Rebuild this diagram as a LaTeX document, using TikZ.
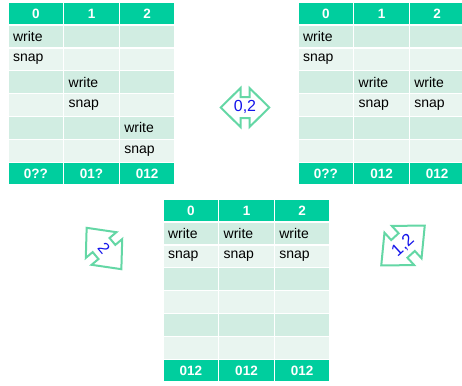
\documentclass[tikz,border=0pt]{standalone}
\usepackage{fontspec}
\setmainfont{Liberation Sans}
\definecolor{teal1}{RGB}{0,206,158}
\definecolor{rowA}{RGB}{209,237,226}
\definecolor{rowB}{RGB}{233,245,240}
\definecolor{arrowc}{RGB}{100,215,165}
\definecolor{lblc}{RGB}{20,20,235}
\def\cw{55.67}
\def\rh{22.9}
\tikzset{
  cellbase/.style={rectangle, draw=white, line width=1.5pt, minimum width=\cw pt, minimum height=\rh pt, inner ysep=0pt, outer sep=0pt},
  hcell/.style={cellbase, fill=teal1, text=white, font=\fontsize{13.5}{15}\selectfont\bfseries, align=center, inner xsep=0pt},
  bcell/.style={cellbase, fill=#1, text=black, font=\fontsize{14}{16}\selectfont, text width=\cw pt-10pt, align=left, inner xsep=5pt},
  arrowline/.style={draw=arrowc, line width=2pt, fill=white, line join=miter},
  alabel/.style={text=lblc, font=\fontsize{16}{18}\selectfont, inner sep=0pt}
}
\newcommand\mktable[5]{%
  \foreach \h [count=\i from 0] in {0,1,2}
    \node[hcell] (#1-0-\i) at ({#2+(\i+0.5)*\cw},{#3+0.5*\rh}) {\h};
  \foreach \r/\a/\b/\c in {#4} {
    \ifodd\r\def\rf{rowA}\else\def\rf{rowB}\fi
    \node[bcell=\rf] (#1-\r-0) at ({#2+0.5*\cw},{#3+(\r+0.5)*\rh}) {\a};
    \node[bcell=\rf] (#1-\r-1) at ({#2+1.5*\cw},{#3+(\r+0.5)*\rh}) {\b};
    \node[bcell=\rf] (#1-\r-2) at ({#2+2.5*\cw},{#3+(\r+0.5)*\rh}) {\c};
  }
  \foreach \f [count=\i from 0] in {#5}
    \node[hcell] (#1-7-\i) at ({#2+(\i+0.5)*\cw},{#3+7.5*\rh}) {\f};
}
% double arrow outline: #1 centre, #2 rotation, #3 half length, #4 head half width,
% #5 shaft half width, #6 shaft half length
\newcommand\dblarrow[6]{%
  \begin{scope}[shift={(#1)}, rotate=#2]
    \path[arrowline] (-#3,0) -- (-#6,-#4) -- (-#6,-#5) -- (#6,-#5) -- (#6,-#4)
      -- (#3,0) -- (#6,#4) -- (#6,#5) -- (-#6,#5) -- (-#6,#4) -- cycle;
  \end{scope}}
\begin{document}
\begin{tikzpicture}[x=1pt,y=-1pt]
\useasboundingbox (0,0) rectangle (462,385);
\begin{scope}
\clip (0,0) rectangle (462,385);
\mktable{tl}{8}{2}{1/write/{}/{},2/snap/{}/{},3/{}/write/{},4/{}/snap/{},5/{}/{}/write,6/{}/{}/snap}{0??,01?,012}
\mktable{tr}{298}{2}{1/write/{}/{},2/snap/{}/{},3/{}/write/write,4/{}/snap/snap,5/{}/{}/{},6/{}/{}/{}}{0??,012,012}
\mktable{bt}{163}{199}{1/write/write/write,2/snap/snap/snap,3/{}/{}/{},4/{}/{}/{},5/{}/{}/{},6/{}/{}/{}}{012,012,012}
\end{scope}
\coordinate (a1) at (245,107.5);
\coordinate (a2) at (104,248.5);
\coordinate (a3) at (403,245.5);
\dblarrow{a1}{0}{24.3}{19.5}{10.5}{4.5}
\dblarrow{a2}{-50}{27}{20}{11}{4.5}
\dblarrow{a3}{42.5}{29.5}{22}{12}{5}
\node[alabel] (l1) at ([yshift=1pt]a1) {0,2};
\node[alabel, rotate=-50] (l2) at (a2) {2};
\node[alabel, font=\fontsize{17}{19}\selectfont, rotate=42.5] (l3) at (a3) {1,2};
\end{tikzpicture}
\end{document}
